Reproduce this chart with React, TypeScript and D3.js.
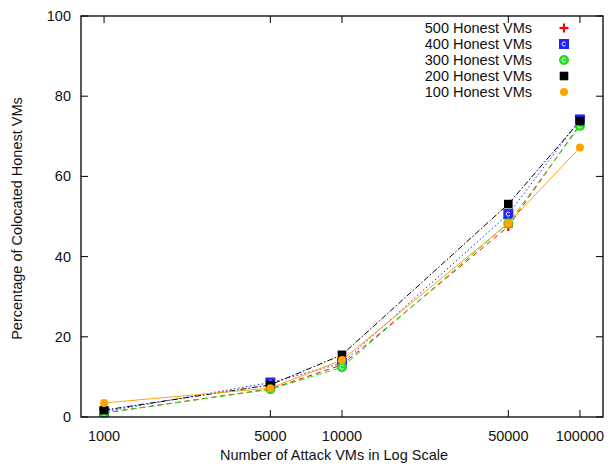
import React from 'react';
import * as d3 from 'd3';

// attack VM counts (x) and colocation percentages per honest-VM setting
const attackVMs = [1000, 5000, 10000, 50000, 100000];
const xTicks = [1000, 5000, 10000, 50000, 100000];
const yTicks = [0, 20, 40, 60, 80, 100];

const honest500 = [1.0, 7.0, 13.0, 47.5, 73.0];
const honest400 = [1.3, 8.6, 13.4, 50.6, 74.2];
const honest300 = [1.0, 6.9, 12.4, 48.3, 72.6];
const honest200 = [1.7, 8.0, 15.5, 53.1, 73.8];
const honest100 = [3.5, 7.2, 14.2, 48.3, 67.2];

const seriesNames = ['500 Honest VMs', '400 Honest VMs', '300 Honest VMs', '200 Honest VMs', '100 Honest VMs'];

const styles = [
  { color: '#ff0000', dash: '5,4', marker: 'plus' },
  { color: '#2222ff', dash: '1.5,2.5', marker: 'csquare' },
  { color: '#22dd22', dash: '6,3', marker: 'ccircle' },
  { color: '#000000', dash: '6,2,1.5,2', marker: 'square' },
  { color: '#ffa500', dash: null, marker: 'circle' },
];

const W = 613;
const H = 470;
const margin = { top: 16, right: 10, bottom: 53, left: 81 };
const FONT = '"Liberation Sans", Arial, sans-serif';

function Marker({ kind, x, y, color }) {
  switch (kind) {
    case 'plus':
      return (
        <g stroke={color} strokeWidth={2.2}>
          <line x1={x - 4.5} x2={x + 4.5} y1={y} y2={y} />
          <line x1={x} x2={x} y1={y - 4.5} y2={y + 4.5} />
        </g>
      );
    case 'csquare':
      return (
        <g>
          <rect x={x - 5} y={y - 5} width={10} height={10} fill={color} />
          <path d={`M${x + 1.6},${y - 1.2} A2,2 0 1 0 ${x + 1.6},${y + 1.2}`} fill="none" stroke="#fff" strokeWidth={1} />
        </g>
      );
    case 'ccircle':
      return (
        <g>
          <circle cx={x} cy={y} r={5} fill={color} />
          <path d={`M${x + 1.6},${y - 1.2} A2,2 0 1 0 ${x + 1.6},${y + 1.2}`} fill="none" stroke="#fff" strokeWidth={1} />
        </g>
      );
    case 'square':
      return <rect x={x - 4.3} y={y - 4.3} width={8.6} height={8.6} fill={color} />;
    default:
      return <circle cx={x} cy={y} r={4} fill={color} />;
  }
}

export default function App() {
  const innerW = W - margin.left - margin.right;
  const innerH = H - margin.top - margin.bottom;

  const x = d3.scaleLog().domain([800, 125000]).range([margin.left, margin.left + innerW]);
  const y = d3.scaleLinear().domain([0, 100]).range([margin.top + innerH, margin.top]);

  const allSeries = [honest500, honest400, honest300, honest200, honest100];
  const line = d3.line<number>()
    .x((_, i) => x(attackVMs[i]))
    .y(d => y(d));

  const left = margin.left;
  const right = margin.left + innerW;
  const top = margin.top;
  const bottom = margin.top + innerH;
  const tick = 7;

  return (
    <svg width={W} height={H} style={{ position: 'absolute', left: 0, top: 0, background: '#fff' }}
      fontFamily={FONT}>
      {/* ticks, mirrored on all four sides */}
      <g stroke="#000" strokeWidth={1}>
        {yTicks.map(t => (
          <g key={'y' + t}>
            <line x1={left} x2={left + tick} y1={y(t)} y2={y(t)} />
            <line x1={right} x2={right - tick} y1={y(t)} y2={y(t)} />
          </g>
        ))}
        {xTicks.map(t => (
          <g key={'x' + t}>
            <line x1={x(t)} x2={x(t)} y1={bottom} y2={bottom - tick} />
            <line x1={x(t)} x2={x(t)} y1={top} y2={top + tick} />
          </g>
        ))}
      </g>
      <g fontSize={14.5} fill="#111">
        {yTicks.map(t => (
          <text key={'yl' + t} x={left - 10} y={y(t)} dy="0.35em" textAnchor="end">{t}</text>
        ))}
        {xTicks.map(t => (
          <text key={'xl' + t} x={x(t)} y={bottom + 24} textAnchor="middle">{t}</text>
        ))}
        <text x={(left + right) / 2 - 8} y={460} textAnchor="middle">Number of Attack VMs in Log Scale</text>
        <text transform={`translate(22,${(top + bottom) / 2 + 2}) rotate(-90)`} textAnchor="middle">
          Percentage of Colocated Honest VMs
        </text>
      </g>

      {/* series */}
      {allSeries.map((s, si) => (
        <g key={si}>
          <path d={line(s) ?? ''} fill="none" stroke={styles[si].color} strokeWidth={1}
            strokeDasharray={styles[si].dash ?? undefined} />
          {s.map((v, i) => (
            <Marker key={i} kind={styles[si].marker} x={x(attackVMs[i])} y={y(v)} color={styles[si].color} />
          ))}
        </g>
      ))}

      {/* legend */}
      <g fontSize={14.5} fill="#111">
        {seriesNames.map((name, i) => (
          <g key={name}>
            <text x={532} y={28 + i * 16} dy="0.35em" textAnchor="end">{name}</text>
            <Marker kind={styles[i].marker} x={564} y={28 + i * 16} color={styles[i].color} />
          </g>
        ))}
      </g>

      <rect x={left} y={top} width={innerW} height={innerH} fill="none" stroke="#000" strokeWidth={1.3} />
    </svg>
  );
}
